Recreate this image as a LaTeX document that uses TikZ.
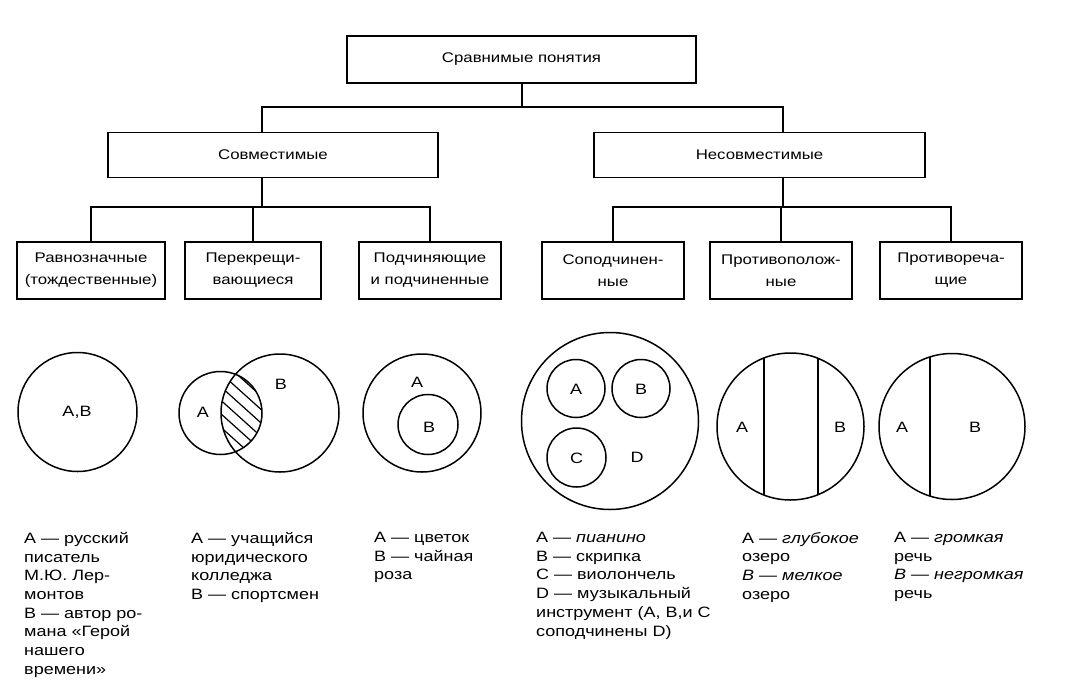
\documentclass[tikz,border=0pt]{standalone}
\usepackage{fontspec}
\setmainfont{Liberation Sans}[FakeStretch=1.2]
\usetikzlibrary{positioning}
\tikzset{
        box/.style={draw,line width=1.5pt,align=center,inner sep=0pt,
          font=\fontsize{14}{22}\selectfont},
        lnk/.style={line width=1.4pt},
        ring/.style={line width=1.5pt},
        lbl/.style={font=\fontsize{15}{18}\selectfont},
        note/.style={anchor=north west,align=left,inner sep=0pt,
          font=\fontsize{15}{18.7}\selectfont}
}
\begin{document}
\begin{tikzpicture}[x=1pt,y=-1pt]
        \path[fill=white] (0,0) rectangle (1069,691);
        \node[box,minimum width=349pt,minimum height=47pt] (top) at (521.5,59.5) {Сравнимые понятия};
        \node[box,minimum width=330pt,minimum height=45pt] (sovm) at (273,155) {Совместимые};
        \node[box,minimum width=331pt,minimum height=45pt] (nesov) at (759.5,155) {Несовместимые};
        \node[box,minimum width=148pt,minimum height=57pt] (ravn) at (91,270.5) {Равнозначные\\(тождественные)};
        \node[box,minimum width=136pt,minimum height=57pt] (perek) at (253,270.5) {Перекрещи-\\вающиеся};
        \node[box,minimum width=142pt,minimum height=57pt] (podch) at (430,270.5) {Подчиняющие\\и подчиненные};
        \node[box,minimum width=142pt,minimum height=57pt] (sopod) at (613,270.5) {Соподчинен-\\ные};
        \node[box,minimum width=142pt,minimum height=57pt] (protpol) at (781,270.5) {Противополож-\\ные};
        \node[box,minimum width=142pt,minimum height=57pt] (protrech) at (951,270.5) {Противореча-\\щие};
        \coordinate (hub) at (522,107);
        \coordinate (j1) at (262,107);
        \coordinate (j2) at (783,107);
        \coordinate (k1) at (262,207);
        \coordinate (k2) at (783,207);
        \draw[lnk] (hub |- top.south) -- (hub);
        \draw[lnk] (j1 |- sovm.north) -- (j1) -- (j2) -- (j2 |- nesov.north);
        \draw[lnk] (k1 |- sovm.south) -- (k1);
        \draw[lnk] (k2 |- nesov.south) -- (k2);
        \draw[lnk] (ravn.north) |- (k1) -| (podch.north);
        \draw[lnk] (perek.north) -- (perek.north |- k1);
        \draw[lnk] (sopod.north) |- (k2) -| (protrech.north);
        \draw[lnk] (protpol.north) -- (protpol.north |- k2);
        \draw[ring] (77.5,412) circle[radius=59.5];
        \node[lbl] (ab) at (77,412) {А,В};
        \begin{scope}
          \clip (220.5,413) circle[radius=41.5];
          \clip (280,413) circle[radius=59];
          \foreach \k in {0,...,11}
            \draw[line width=1.2pt] (105+\k*15,350) -- ++(140,126);
        \end{scope}
        \draw[ring] (220.5,413) circle[radius=41.5];
        \draw[ring] (280,413) circle[radius=59];
        \node[lbl] (pa) at (203,412) {А};
        \node[lbl] (pb) at (281,384) {В};
        \draw[ring] (422,413) circle[radius=59];
        \draw[ring] (428,424.5) circle[radius=30];
        \node[lbl] (sa) at (417,382) {А};
        \node[lbl] (sb) at (429,427) {В};
        \draw[ring] (610,421) circle[radius=88.5];
        \draw[ring] (576,388.5) circle[radius=29];
        \draw[ring] (641,388.5) circle[radius=29];
        \draw[ring] (576.5,457.5) circle[radius=29.5];
        \node[lbl] (ca) at (576,389) {А};
        \node[lbl] (cb) at (641,389) {В};
        \node[lbl] (cc) at (576.5,458) {С};
        \node[lbl] (cd) at (637,457) {D};
        \begin{scope}
          \clip (790.5,426.5) circle[radius=73.5];
          \draw[lnk] (764,340) -- (764,510);
          \draw[lnk] (818,340) -- (818,510);
        \end{scope}
        \draw[ring] (790.5,426.5) circle[radius=73.5];
        \node[lbl] (oa) at (742,427) {А};
        \node[lbl] (ob) at (840,427) {В};
        \begin{scope}
          \clip (952,426.5) circle[radius=73];
          \draw[lnk] (930,340) -- (930,510);
        \end{scope}
        \draw[ring] (952,426.5) circle[radius=73];
        \node[lbl] (ra) at (902,427) {А};
        \node[lbl] (rb) at (975,427) {В};
        \node[note] (n1) at (24,532) {А — русский\\писатель\\М.Ю. Лер-\\монтов\\В — автор ро-\\мана «Герой\\нашего\\времени»};
        \node[note] (n2) at (191,532) {А — учащийся\\юридического\\колледжа\\В — спортсмен};
        \node[note] (n3) at (374,532) {А — цветок\\В — чайная\\роза};
        \node[note] (n4) at (536,532) {А — \textit{пианино}\\В — скрипка\\С — виолончель\\D — музыкальный\\инструмент (А, В,и С\\соподчинены D)};
        \node[note] (n5) at (742,532) {А — \textit{глубокое}\\озеро\\\textit{В — мелкое}\\озеро};
        \node[note] (n6) at (894,532) {А — \textit{громкая}\\речь\\\textit{В — негромкая}\\речь};
\end{tikzpicture}
\end{document}
